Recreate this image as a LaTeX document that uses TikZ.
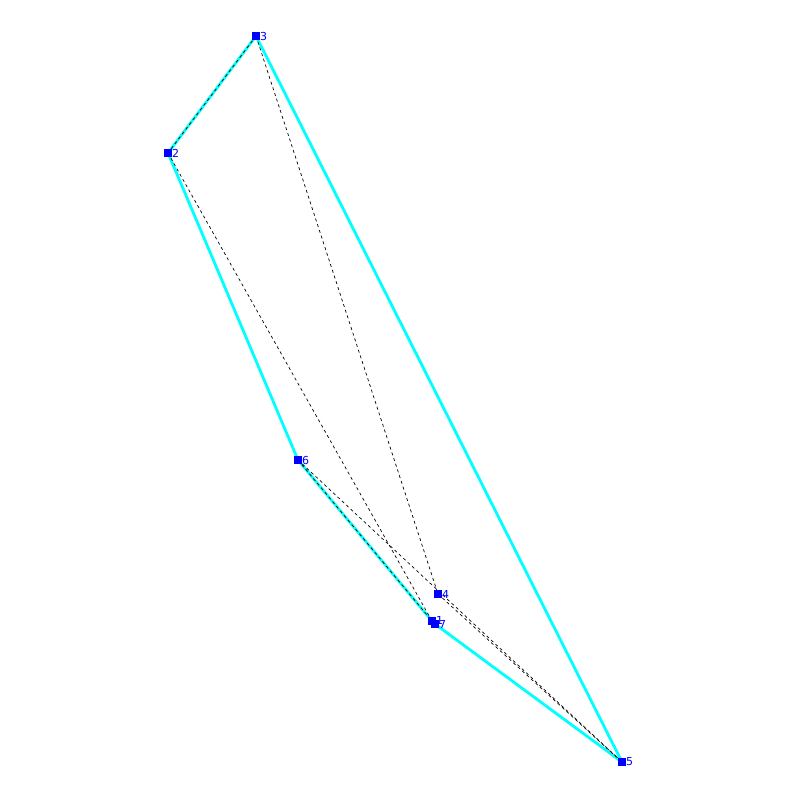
\documentclass[tikz,border=0pt]{standalone}
\usepackage{fontspec}
\setmainfont{DejaVu Sans}
\definecolor{hullcyan}{RGB}{0,255,255}
\definecolor{ptblue}{RGB}{0,0,255}
\begin{document}
\begin{tikzpicture}[x=1pt,y=-1pt,
  pt/.style={fill=ptblue,draw=none,minimum size=8pt,inner sep=0pt,outer sep=0pt,rectangle},
  lab/.style={text=ptblue,font=\fontsize{11}{11}\selectfont,inner sep=0pt,anchor=west},
  hull/.style={draw=hullcyan,line width=2.8pt},
  dsh/.style={draw=black,line width=0.7pt,dash pattern=on 3pt off 3pt}]
\useasboundingbox (0,0) rectangle (800,800);
\coordinate (p3) at (256,36);
\coordinate (p2) at (168,153);
\coordinate (p6) at (298,460);
\coordinate (p4) at (438,594);
\coordinate (p1) at (432,621);
\coordinate (p7) at (435,624);
\coordinate (p5) at (622,762);
\draw[hull] (p3) -- (p2) -- (p6) -- (p1) -- (p7) -- (p5) -- cycle;
\draw[dsh] (p3) -- (p2);
\draw[dsh] (p3) -- (p4);
\draw[dsh] (p2) -- (p1);
\draw[dsh] (p6) -- (p1);
\draw[dsh] (p6) -- (p5);
\draw[dsh] (p4) -- (p5);
\foreach \n in {3,2,6,4,1,7,5}{
  \node[pt] (n\n) at (p\n) {};
}
\node[lab] (l3) at ([xshift=4pt]p3) {3};
\node[lab] (l2) at ([xshift=4pt]p2) {2};
\node[lab] (l6) at ([xshift=4pt]p6) {6};
\node[lab] (l4) at ([xshift=4pt]p4) {4};
\node[lab] (l1) at ([xshift=4pt,yshift=1pt]p1) {1};
\node[lab] (l7) at ([xshift=4pt]p7) {7};
\node[lab] (l5) at ([xshift=4pt]p5) {5};
\end{tikzpicture}
\end{document}
